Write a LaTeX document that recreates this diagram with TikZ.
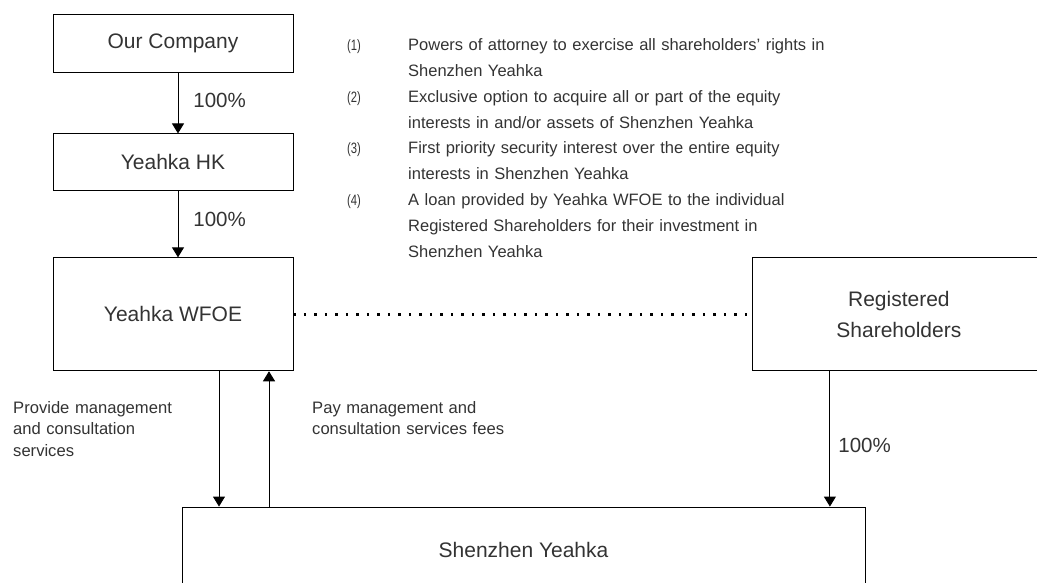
\documentclass[tikz,border=0pt]{standalone}
\usepackage{fontspec}
\setmainfont{Liberation Sans}
\newfontfamily\numfont[FakeStretch=0.75]{Liberation Sans}
\usetikzlibrary{positioning, arrows.meta}

\begin{document}
\begin{tikzpicture}[
    x=1pt, y=-1pt,
    node distance=61pt,
    box/.style={
        draw,
        line width=0.9pt,
        inner sep=0pt,
        align=center,
        text=black!80,
        font=\fontsize{21}{31}\selectfont
    },
    arrow/.style={-{Triangle[width=12pt,length=10pt]}, line width=0.9pt},
    dots/.style={line width=2.4pt, dash pattern=on 2.4pt off 8.1pt},
    pct/.style={right, inner sep=0pt, text=black!80, font=\fontsize{20.5}{24}\selectfont},
    num/.style={anchor=base west, inner sep=0pt, text=black!80, font=\numfont\fontsize{15}{17}\selectfont},
    note/.style={anchor=base west, inner sep=0pt, align=left, text width=440pt,
        text=black!80, font=\fontsize{16.5}{25.6}\selectfont},
    side/.style={anchor=base west, inner sep=0pt, align=left, text width=220pt,
        text=black!80, font=\fontsize{16.6}{21.7}\selectfont}
]

\useasboundingbox (0,0) rectangle (1037,583);
\clip (0,0) rectangle (1037,583);

% holding chain
\node[box, minimum width=240pt, minimum height=58pt] (co) at (173,43) {Our Company};
\node[box, minimum width=240pt, minimum height=57pt, below=61pt of co] (hk) {Yeahka HK};
\node[box, minimum width=240pt, minimum height=113pt, below=66pt of hk] (wfoe) {Yeahka WFOE};
\node[box, minimum width=292pt, minimum height=113pt, right=459pt of wfoe] (rs) {Registered\\Shareholders};
\node[box, minimum width=683pt, minimum height=86pt] (sy) at (523.5,550) {Shenzhen Yeahka};

\coordinate (dn) at ([xshift=46pt]wfoe.south);
\coordinate (up) at ([xshift=96pt]wfoe.south);
\coordinate (rsdn) at ([xshift=-69pt]rs.south);

\draw[arrow] ([xshift=5pt]co.south) -- node[pct, xshift=15pt, yshift=2.5pt] (p1) {100\%} ([xshift=5pt]hk.north);
\draw[arrow] ([xshift=5pt]hk.south) -- node[pct, xshift=15pt, yshift=5pt] (p2) {100\%} ([xshift=5pt]wfoe.north);
\draw[arrow] (dn) -- (dn |- sy.north);
\draw[arrow] (up |- sy.north) -- (up);
\draw[arrow] (rsdn) -- node[pct, xshift=8pt, yshift=-7pt] (p3) {100\%} (rsdn |- sy.north);
\draw[dots] (wfoe) -- (rs);

% flow labels
\node[side] (prov) at (13,413) {Provide management\\and consultation\\services};
\node[side] (pay) at (312,413) {Pay management and\\consultation services fees};

% notes
\node[num] (n1) at (347,51) {(1)};
\node[note] (t1) at (408,51) {Powers of attorney to exercise all shareholders’ rights in\\Shenzhen Yeahka};
\node[num] (n2) at (347,103) {(2)};
\node[note] (t2) at (408,103) {Exclusive option to acquire all or part of the equity\\interests in and/or assets of Shenzhen Yeahka};
\node[num] (n3) at (347,154) {(3)};
\node[note] (t3) at (408,154) {First priority security interest over the entire equity\\interests in Shenzhen Yeahka};
\node[num] (n4) at (347,206) {(4)};
\node[note] (t4) at (408,206) {A loan provided by Yeahka WFOE to the individual\\Registered Shareholders for their investment in\\Shenzhen Yeahka};

\end{tikzpicture}
\end{document}
